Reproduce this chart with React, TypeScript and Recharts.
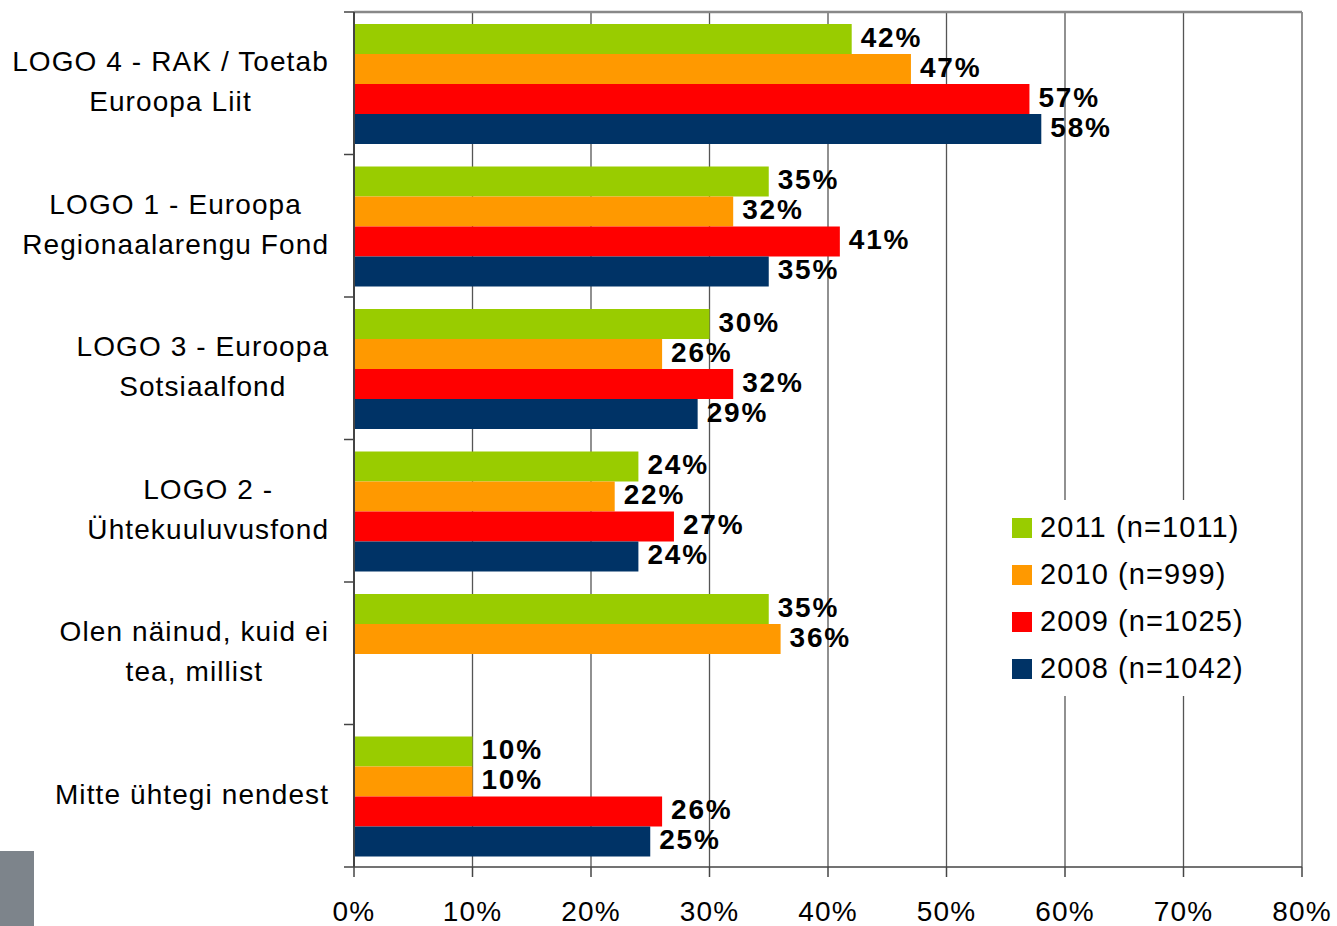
import React from "react";
import {
  BarChart,
  Bar,
  XAxis,
  YAxis,
  CartesianGrid,
  Legend,
  LabelList,
} from "recharts";

const CATEGORIES = [
  "LOGO 4 - RAK / Toetab\nEuroopa Liit",
  "LOGO 1 - Euroopa\nRegionaalarengu Fond",
  "LOGO 3 - Euroopa\nSotsiaalfond",
  "LOGO 2 -\nÜhtekuuluvusfond",
  "Olen näinud, kuid ei\ntea, millist",
  "Mitte ühtegi nendest",
];
const VALUES_2011 = [42, 35, 30, 24, 35, 10];
const VALUES_2010 = [47, 32, 26, 22, 36, 10];
const VALUES_2009 = [57, 41, 32, 27, null, 26];
const VALUES_2008 = [58, 35, 29, 24, null, 25];
const X_TICKS = [0, 10, 20, 30, 40, 50, 60, 70, 80];

const SERIES = [
  { key: "y2011", label: "2011 (n=1011)", color: "#99CC00" },
  { key: "y2010", label: "2010 (n=999)", color: "#FF9900" },
  { key: "y2009", label: "2009 (n=1025)", color: "#FF0000" },
  { key: "y2008", label: "2008 (n=1042)", color: "#003366" },
];

const data = CATEGORIES.map((name, i) => ({
  name,
  y2011: VALUES_2011[i],
  y2010: VALUES_2010[i],
  y2009: VALUES_2009[i],
  y2008: VALUES_2008[i],
}));

const W = 1337;
const H = 926;
const MARGIN = { top: 12, right: 35, bottom: 0, left: 0 };
const Y_AXIS_W = 354;
const X_AXIS_H = 59;
const BAND = (H - MARGIN.top - MARGIN.bottom - X_AXIS_H) / CATEGORIES.length;
const FONT = "'Liberation Sans', Arial, Helvetica, sans-serif";
const LABEL_TRACK = 1.1;

let ctx: CanvasRenderingContext2D | null = null;
function measure(s: string, font: string) {
  if (!ctx) ctx = document.createElement("canvas").getContext("2d");
  if (!ctx) return s.length * 14;
  ctx.font = font;
  return ctx.measureText(s).width + (s.length - 1) * LABEL_TRACK;
}

function CategoryTick(props: any) {
  const { y, payload, index } = props;
  const lines: string[] = String(payload.value).split("\n");
  const maxW = Math.max(...lines.map((l) => measure(l, `28px ${FONT}`)));
  const right = Y_AXIS_W - 26;
  const cx = right - maxW / 2;
  const top = y - BAND / 2;
  return (
    <g>
      <line x1={Y_AXIS_W - 10} x2={Y_AXIS_W} y1={top} y2={top} stroke="#444" strokeWidth={1.5} />
      {index === CATEGORIES.length - 1 && (
        <line x1={Y_AXIS_W - 10} x2={Y_AXIS_W} y1={top + BAND} y2={top + BAND} stroke="#444" strokeWidth={1.5} />
      )}
      {lines.map((l, i) => (
        <text
          key={i}
          x={cx + LABEL_TRACK / 2}
          y={y - 2 + (i - (lines.length - 1) / 2) * 40}
          dy="0.36em"
          textAnchor="middle"
          fontSize={28}
          letterSpacing={LABEL_TRACK}
          fill="#000"
        >
          {l}
        </text>
      ))}
    </g>
  );
}

function LegendBox(props: any) {
  const items = [...(props.payload || [])].sort(
    (a: any, b: any) =>
      SERIES.findIndex((s) => s.key === a.dataKey) - SERIES.findIndex((s) => s.key === b.dataKey)
  );
  return (
    <div style={{ background: "#fff", padding: "4px 8px", fontFamily: FONT }}>
      {items.map((it: any) => (
        <div
          key={it.dataKey}
          style={{ display: "flex", alignItems: "center", height: 47, fontSize: 29, letterSpacing: 1.1, color: "#000" }}
        >
          <span style={{ width: 20, height: 20, background: it.color, marginRight: 8, display: "inline-block" }} />
          {SERIES.find((s) => s.key === it.dataKey)?.label}
        </div>
      ))}
    </div>
  );
}

export default function App() {
  return (
    <div style={{ position: "absolute", left: 0, top: 0, width: W, height: H, background: "#fff" }}>
      <div style={{ position: "absolute", left: 0, top: 851, width: 34, height: 75, background: "#7d848b" }} />
      <BarChart
        width={W}
        height={H}
        data={data}
        layout="vertical"
        margin={MARGIN}
        barCategoryGap={12}
        barGap={0}
        style={{ fontFamily: FONT }}
      >
        <CartesianGrid vertical horizontal={false} stroke="#555" strokeWidth={1.3} />
        <CartesianGrid
          vertical={false}
          horizontal
          horizontalCoordinatesGenerator={({ offset }: any) => [offset.top]}
          stroke="#888"
          strokeWidth={2.5}
        />
        <XAxis
          type="number"
          domain={[0, 80]}
          ticks={X_TICKS}
          interval={0}
          height={X_AXIS_H}
          tickFormatter={(v) => `${v}%`}
          tick={{ fill: "#000", fontSize: 28, letterSpacing: 1.2 }}
          tickSize={10}
          tickMargin={24}
          axisLine={{ stroke: "#444", strokeWidth: 1.5 }}
          tickLine={{ stroke: "#444", strokeWidth: 1.5 }}
        />
        <YAxis
          type="category"
          dataKey="name"
          width={Y_AXIS_W}
          interval={0}
          tick={<CategoryTick />}
          tickLine={false}
          axisLine={{ stroke: "#444", strokeWidth: 2 }}
        />
        <Legend
          layout="vertical"
          align="center"
          verticalAlign="middle"
          content={<LegendBox />}
          wrapperStyle={{ left: 1004, top: 500, width: 252 }}
        />
        {SERIES.map((s) => (
          <Bar key={s.key} dataKey={s.key} name={s.label} fill={s.color} isAnimationActive={false}>
            <LabelList
              dataKey={s.key}
              position="right"
              offset={9}
              dy={-2}
              formatter={(v: any) => (v == null ? "" : `${v}%`)}
              style={{ fontSize: 28, fontWeight: 700, fill: "#000", letterSpacing: 1.8 }}
            />
          </Bar>
        ))}
      </BarChart>
    </div>
  );
}
